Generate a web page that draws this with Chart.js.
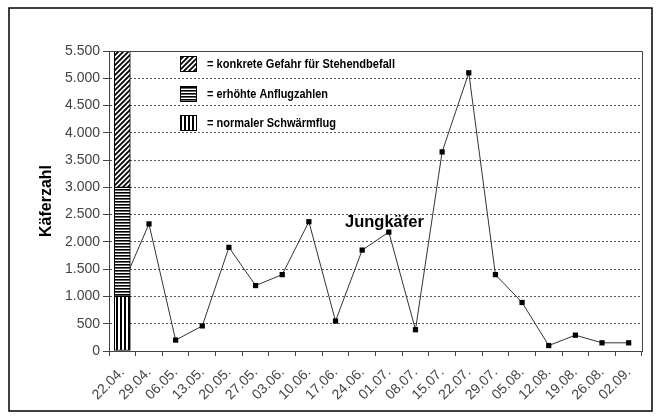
<!DOCTYPE html>
<html><head><meta charset="utf-8">
<script src="https://cdn.jsdelivr.net/npm/chart.js@4.4.1/dist/chart.umd.min.js"></script>
<style>html,body{margin:0;padding:0;background:#fff;}#wrap{width:661px;height:418px;position:relative;}</style>
</head><body><div id="wrap"><canvas id="c"></canvas></div>
<script>
const categories = ['22.04.','29.04.','06.05.','13.05.','20.05.','27.05.','03.06.','10.06.','17.06.','24.06.','01.07.','08.07.','15.07.','22.07.','29.07.','05.08.','12.08.','19.08.','26.08.','02.09.'];
const kaeferzahl = [1200,2330,200,460,1900,1200,1400,2370,550,1850,2180,390,3650,5100,1400,890,100,290,150,150];
const bandNormal = [0,1000];
const bandErhoeht = [1000,3000];
const bandGefahr = [3000,5500];
const yMax = 5500;
const yStep = 500;
const legendTexts = ['= konkrete Gefahr für Stehendbefall','= erhöhte Anflugzahlen','= normaler Schwärmflug'];
const annotationText = 'Jungkäfer';
const yTitle = 'Käferzahl';

function makePattern(kind){
  const c = document.createElement('canvas');
  const s = kind==='diag'?5:(kind==='vert'?4:3);
  c.width = s; c.height = s;
  const g = c.getContext('2d');
  g.fillStyle = '#fff'; g.fillRect(0,0,s,s);
  g.fillStyle = '#000'; g.strokeStyle = '#000';
  if (kind==='vert') { g.fillRect(0,0,2,s); }
  else if (kind==='horz') { g.fillRect(0,0,s,1.6); }
  else {
    g.lineWidth = 1.8;
    g.beginPath();
    g.moveTo(-1,s+1); g.lineTo(s+1,-1);
    g.moveTo(-1,1); g.lineTo(1,-1);
    g.moveTo(s-1,s+1); g.lineTo(s+1,s-1);
    g.stroke();
  }
  return g.createPattern(c,'repeat');
}
const patDiag = makePattern('diag');
const patHorz = makePattern('horz');
const patVert = makePattern('vert');

function firstOnly(v){ return categories.map((_,i)=> i===0 ? v : null); }
function fmt(v){ return String(v).replace(/\B(?=(\d{3})+(?!\d))/g,'.'); }

const extras = {
  id:'extras',
  afterDraw(chart){
    const ctx = chart.ctx, a = chart.chartArea;
    ctx.save();
    ctx.strokeStyle = '#444'; ctx.lineWidth = 1; ctx.setLineDash([]);
    ctx.beginPath();
    ctx.moveTo(a.left, a.top+0.5); ctx.lineTo(a.right+0.5, a.top+0.5); ctx.lineTo(a.right+0.5, a.bottom);
    ctx.stroke();
    ctx.strokeStyle = '#000'; ctx.lineWidth = 1.5;
    ctx.strokeRect(9, 8, 643, 403);
    const pats = [patDiag, patHorz, patVert];
    const widths = [188, 121, 129];
    const tops = [56, 86, 115];
    ctx.font = "bold 12px 'Liberation Sans', Arial, sans-serif";
    ctx.textBaseline = 'alphabetic'; ctx.textAlign = 'left';
    for (let i=0;i<3;i++){
      ctx.fillStyle = pats[i];
      ctx.fillRect(180.5, tops[i]+0.5, 16, 15);
      ctx.strokeStyle = '#000'; ctx.lineWidth = 1;
      ctx.strokeRect(180.5, tops[i]+0.5, 16, 15);
      ctx.fillStyle = '#000';
      ctx.fillText(legendTexts[i], 207, tops[i]+12, widths[i]);
    }
    ctx.font = "bold 16.5px 'Liberation Sans', Arial, sans-serif";
    ctx.fillStyle = '#000';
    ctx.fillText(annotationText, 345, 227);
    ctx.restore();
  }
};

new Chart(document.getElementById('c'), {
  type:'bar',
  data:{
    labels: categories,
    datasets:[
      {type:'line', label:'Käferzahl', data:kaeferzahl, borderColor:'#333', borderWidth:1, tension:0,
       pointStyle:'rect', pointRadius:3.7, pointBackgroundColor:'#000', pointBorderColor:'#000', pointBorderWidth:0, order:2},
      {type:'bar', label:'normal', data:firstOnly(bandNormal), backgroundColor:patVert, borderColor:'#000', borderWidth:1, borderSkipped:false, grouped:false, barThickness:16, order:1},
      {type:'bar', label:'erhöht', data:firstOnly(bandErhoeht), backgroundColor:patHorz, borderColor:'#000', borderWidth:1, borderSkipped:false, grouped:false, barThickness:16, order:1},
      {type:'bar', label:'Gefahr', data:firstOnly(bandGefahr), backgroundColor:patDiag, borderColor:'#000', borderWidth:1, borderSkipped:false, grouped:false, barThickness:16, order:1}
    ]
  },
  options:{
    responsive:true, maintainAspectRatio:false, animation:false,
    layout:{padding:{left:0, top:51, right:19, bottom:0}},
    plugins:{legend:{display:false}, tooltip:{enabled:false}},
    scales:{
      x:{
        offset:true,
        grid:{display:true, offset:true, drawOnChartArea:false, drawTicks:true, tickLength:5, tickColor:'#444'},
        border:{display:true, color:'#444', width:1},
        ticks:{color:'#444', font:{family:"'Liberation Sans', Arial, sans-serif", size:14}, minRotation:45, maxRotation:45, padding:8, autoSkip:false},
        afterFit(s){ s.height = 67; }
      },
      y:{
        min:0, max:yMax,
        grid:{color:'#555', lineWidth:1, tickLength:6, tickColor:'#444', tickBorderDash:[]},
        border:{display:true, color:'#444', width:1, dash:[2,2]},
        ticks:{stepSize:yStep, color:'#444', padding:3, font:{family:"'Liberation Sans', Arial, sans-serif", size:14}, callback:(v)=>fmt(v)},
        title:{display:true, text:yTitle, color:'#000', font:{family:"'Liberation Sans', Arial, sans-serif", size:16, weight:'bold'}, padding:{top:37, bottom:0}},
        afterFit(s){ s.width = 109; }
      }
    }
  },
  plugins:[extras]
});
</script></body></html>
